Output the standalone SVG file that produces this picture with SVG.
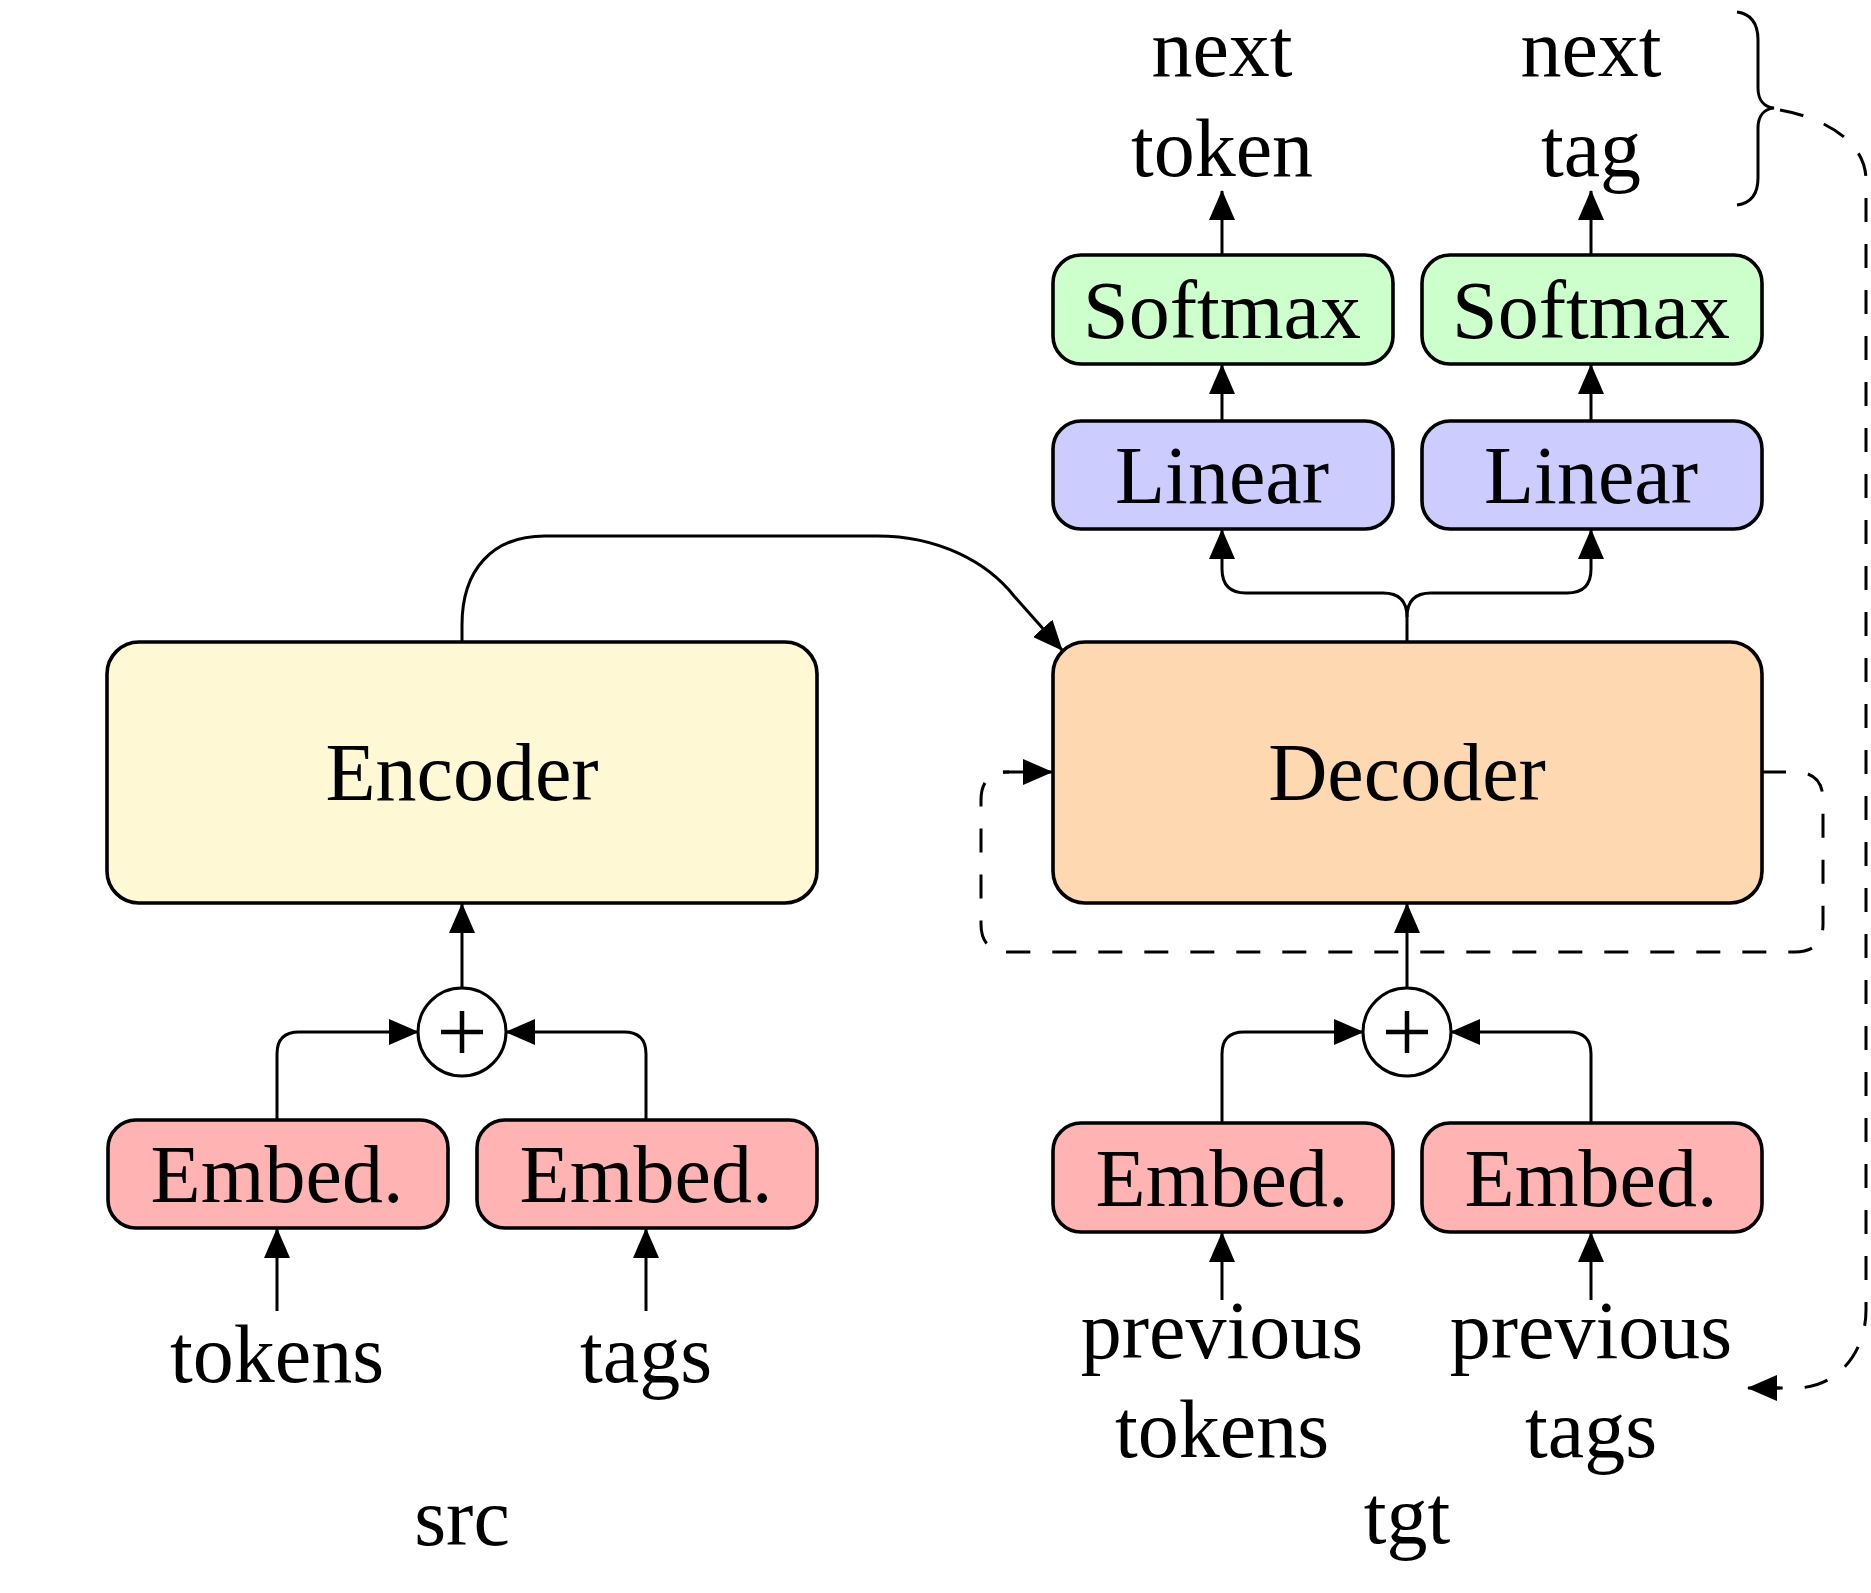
<svg xmlns="http://www.w3.org/2000/svg" width="1871" height="1593" viewBox="0 0 1871 1593">
<style>
.box{stroke:#000;stroke-width:3.6}
.enc{fill:#FEF9D4}
.dec{fill:#FDD8B1}
.soft{fill:#CCFFCC}
.lin{fill:#CCCCFF}
.emb{fill:#FFB3B3}
.t{font-family:"Liberation Serif","Times New Roman",serif;font-size:82px;fill:#000;text-anchor:middle}
.c{fill:none;stroke:#000;stroke-width:3}
.a{marker-end:url(#arr)}
.d{stroke-dasharray:24 22}
.plus{fill:#fff;stroke:#000;stroke-width:3}
.pl{stroke:#000;stroke-width:4.5}
</style>
<defs>
<marker id="arr" markerUnits="userSpaceOnUse" markerWidth="30" markerHeight="26" refX="29" refY="13" orient="auto" viewBox="0 0 30 26">
<path d="M0,0 L30,13 L0,26 Z" fill="#000"/>
</marker>
</defs>

<g id="connectors">
<!-- src -->
<path class="c a" d="M277,1311 V1229"/>
<path class="c a" d="M646,1311 V1229"/>
<path class="c a" d="M277,1120 V1054 Q277,1032 299,1032 H418"/>
<path class="c a" d="M646,1120 V1054 Q646,1032 624,1032 H506"/>
<path class="c a" d="M462,988 V904"/>
<!-- tgt -->
<path class="c a" d="M1222,1300 V1233"/>
<path class="c a" d="M1591,1300 V1233"/>
<path class="c a" d="M1222,1123 V1054 Q1222,1032 1244,1032 H1363"/>
<path class="c a" d="M1591,1123 V1054 Q1591,1032 1569,1032 H1451"/>
<path class="c a" d="M1407,988 V904"/>
<!-- encoder to decoder -->
<path class="c a" d="M462,642 V625 C462,570 492,536 545,536 H877 C940,536 988,563 1014,596 L1062,650"/>
<!-- decoder fork -->
<path class="c a" d="M1407,642 V617 Q1407,593 1383,593 H1246 Q1222,593 1222,569 V530"/>
<path class="c a" d="M1407,617 Q1407,593 1431,593 H1567 Q1591,593 1591,569 V530"/>
<!-- linear to softmax -->
<path class="c a" d="M1222,421 V365"/>
<path class="c a" d="M1591,421 V365"/>
<!-- softmax to outputs -->
<path class="c a" d="M1222,255 V191"/>
<path class="c a" d="M1591,255 V191"/>
<!-- decoder recurrent dashed loop -->
<path class="c d" d="M1762,772 H1795 Q1823,772 1823,800 V924 Q1823,952 1795,952 H1009 Q981,952 981,924 V800 Q981,772 1009,772"/>
<path class="c a" d="M1003,772 H1052"/>
<!-- brace -->
<path class="c" stroke-width="3.6" d="M1737,12 C1752,14 1758,25 1758,40 V88 C1758,100 1764,107 1774,108 C1764,109 1758,116 1758,128 V178 C1758,193 1752,203 1737,205"/>
<!-- feedback dashed -->
<path class="c d" d="M1780,110 C1825,118 1866,142 1866,180 V1310 C1866,1352 1838,1388 1795,1388 H1775"/>
<path class="c a" d="M1780,1388 H1748"/>
</g>

<g id="encoder"><rect class="box enc" x="107" y="642" width="710" height="261" rx="32"/><text class="t" x="462" y="800">Encoder</text></g>
<g id="decoder"><rect class="box dec" x="1053" y="642" width="709" height="261" rx="32"/><text class="t" x="1407" y="800">Decoder</text></g>

<g id="softmax1"><rect class="box soft" x="1053" y="255" width="340" height="109" rx="28"/><text class="t" x="1222" y="338">Softmax</text></g>
<g id="softmax2"><rect class="box soft" x="1422" y="255" width="340" height="109" rx="28"/><text class="t" x="1591" y="338">Softmax</text></g>
<g id="linear1"><rect class="box lin" x="1053" y="421" width="340" height="108" rx="28"/><text class="t" x="1222" y="503">Linear</text></g>
<g id="linear2"><rect class="box lin" x="1422" y="421" width="340" height="108" rx="28"/><text class="t" x="1591" y="503">Linear</text></g>

<g id="embed_src_tokens"><rect class="box emb" x="108" y="1120" width="340" height="108" rx="28"/><text class="t" x="277" y="1202">Embed.</text></g>
<g id="embed_src_tags"><rect class="box emb" x="477" y="1120" width="340" height="108" rx="28"/><text class="t" x="646" y="1202">Embed.</text></g>
<g id="embed_tgt_tokens"><rect class="box emb" x="1053" y="1123" width="340" height="109" rx="28"/><text class="t" x="1222" y="1206">Embed.</text></g>
<g id="embed_tgt_tags"><rect class="box emb" x="1422" y="1123" width="340" height="109" rx="28"/><text class="t" x="1591" y="1206">Embed.</text></g>

<g id="plus_src"><circle class="plus" cx="462" cy="1032" r="44"/><path class="pl" d="M441,1032 H483 M462,1011 V1053"/></g>
<g id="plus_tgt"><circle class="plus" cx="1407" cy="1032" r="44"/><path class="pl" d="M1386,1032 H1428 M1407,1011 V1053"/></g>

<g id="labels">
<text class="t" x="1222" y="76">next</text>
<text class="t" x="1222" y="176">token</text>
<text class="t" x="1591" y="76">next</text>
<text class="t" x="1591" y="176">tag</text>
<text class="t" x="277" y="1382">tokens</text>
<text class="t" x="646" y="1382">tags</text>
<text class="t" x="462" y="1545">src</text>
<text class="t" x="1222" y="1358">previous</text>
<text class="t" x="1222" y="1457">tokens</text>
<text class="t" x="1591" y="1358">previous</text>
<text class="t" x="1591" y="1457">tags</text>
<text class="t" x="1407" y="1543">tgt</text>
</g>
</svg>
